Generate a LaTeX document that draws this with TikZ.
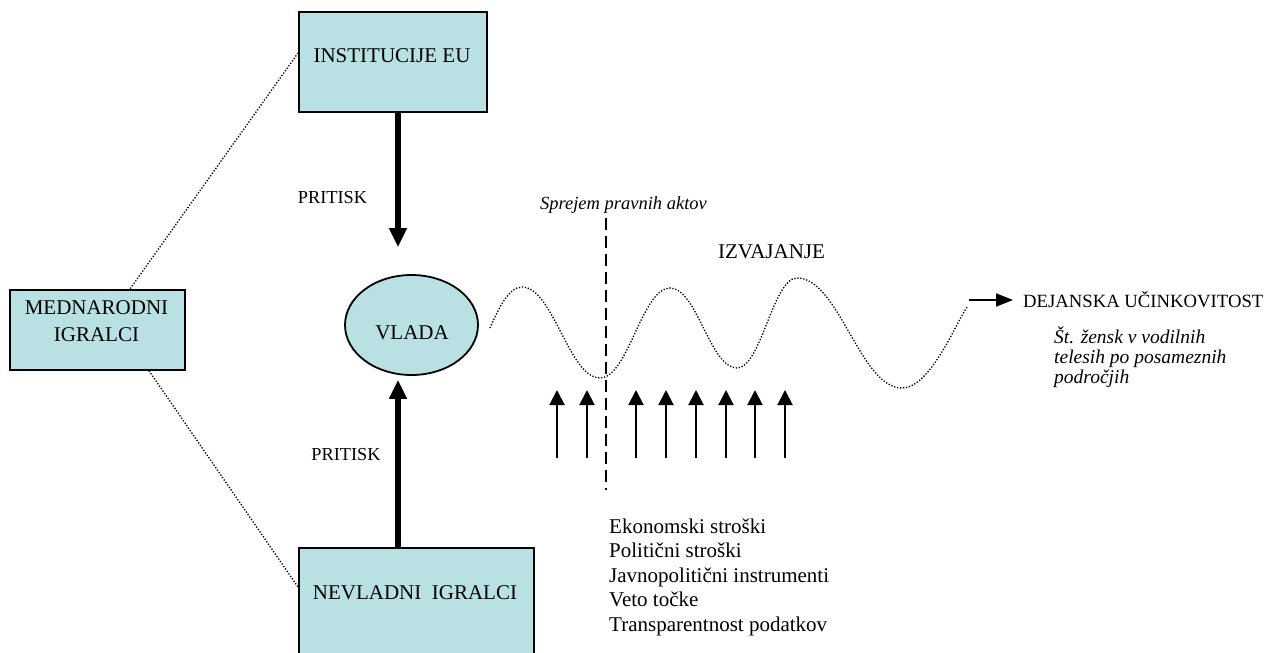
\documentclass[tikz,border=0pt]{standalone}
\usepackage{fontspec}
\setmainfont{Liberation Serif}
\usetikzlibrary{arrows.meta,shapes.geometric}
\definecolor{boxfill}{HTML}{B9E0E3}

\begin{document}
\begin{tikzpicture}[x=1pt,y=-1pt,
  box/.style={draw, line width=1.8pt, fill=boxfill, inner sep=0pt, anchor=north west},
  lbl/.style={inner sep=0pt, font=\fontsize{21}{25}\selectfont},
  small/.style={inner sep=0pt, font=\fontsize{18.3}{22}\selectfont},
  note/.style={inner sep=0pt, font=\fontsize{18.5}{20}\selectfont\itshape, align=left},
  link/.style={line width=1.3pt, dash pattern=on 1.3pt off 1.7pt},
  push/.style={line width=6pt, -{Triangle[width=17pt,length=19pt]}},
  force/.style={line width=2pt, -{Triangle[width=15pt,length=15pt]}},
]
\useasboundingbox (0,0) rectangle (1275,653);

% actors
\node[box, minimum width=188pt, minimum height=100pt] (eu) at (298,11) {};
\node[box, minimum width=175pt, minimum height=80pt] (med) at (9,289) {};
\node[box, minimum width=235pt, minimum height=160pt] (nev) at (298,547) {};
\node[draw, ellipse, line width=1.8pt, fill=boxfill, inner sep=0pt,
      minimum width=133pt, minimum height=100pt] (vlada) at (411.5,325) {};

\node[lbl] (eutext) at (392,56) {INSTITUCIJE EU};
\node[lbl, align=center, font=\fontsize{21}{27}\selectfont] (medtext) at (96.5,321) {MEDNARODNI\\IGRALCI};
\node[lbl] (nevtext) at (415,593) {NEVLADNI\ \ IGRALCI};
\node[lbl] (vladatext) at (412,333) {VLADA};

% links of the international actors
\draw[link] ([yshift=-42pt]eu.north west) -- ([xshift=121pt]med.north west);
\draw[link] ([xshift=140pt]med.south west) -- ([yshift=-40pt]nev.north west);

% pressure on the government
\coordinate (ax) at (398,0);
\draw[push, shorten >=27pt] (eu.south -| ax) -- (vlada.north -| ax);
\draw[push, shorten >=4pt] (nev.north -| ax) -- (vlada.south -| ax);
\node[small] (p1) at (332.5,198) {PRITISK};
\node[small] (p2) at (346,455) {PRITISK};

% adoption of legal acts
\coordinate (d1) at (606,218);
\coordinate (d2) at (606,490);
\draw[line width=2pt, dash pattern=on 12pt off 6pt] (d1) -- (d2);
\node[note] (sprejem) at (623.5,205) {Sprejem pravnih aktov};

% implementation wave
\coordinate (w0) at (490,328);
\coordinate (w8) at (967,307);
\draw[link] (w0) .. controls (497,312) and (508,287) .. (522,287)
  .. controls (553,287) and (569,378) .. (600,378)
  .. controls (628,378) and (642,288) .. (670,288)
  .. controls (697,288) and (710,368) .. (737,368)
  .. controls (761,368) and (773,278) .. (797,278)
  .. controls (839,278) and (860,388) .. (902,388)
  .. controls (930,388) and (955,325) .. (w8);
\node[lbl] (izv) at (771.5,252) {IZVAJANJE};

% obstacles pushing from below
\foreach \x [count=\i] in {557,587,636,666,696,726,755,785}{
  \coordinate (fb\i) at (\x,458);
  \coordinate (ft\i) at (\x,390);
  \draw[force] (fb\i) -- (ft\i);
}

\node[inner sep=0pt, anchor=west, align=left, font=\fontsize{21}{24.5}\selectfont] (costs) at (609,577)
  {Ekonomski stroški\\Politični stroški\\Javnopolitični instrumenti\\Veto točke\\Transparentnost podatkov};

% outcome
\coordinate (r0) at (969,300);
\node[inner sep=0pt, anchor=west, font=\fontsize{18.7}{22}\selectfont] (dej) at (1023,300) {DEJANSKA UČINKOVITOST};
\draw[line width=2pt, -{Triangle[width=13pt,length=17pt]}] (r0) -- ([xshift=-10pt]dej.west);
\node[note, anchor=west, font=\fontsize{19.5}{20}\selectfont\itshape] (st) at (1054,357)
  {Št. žensk v vodilnih\\telesih po posameznih\\področjih};
\end{tikzpicture}
\end{document}
